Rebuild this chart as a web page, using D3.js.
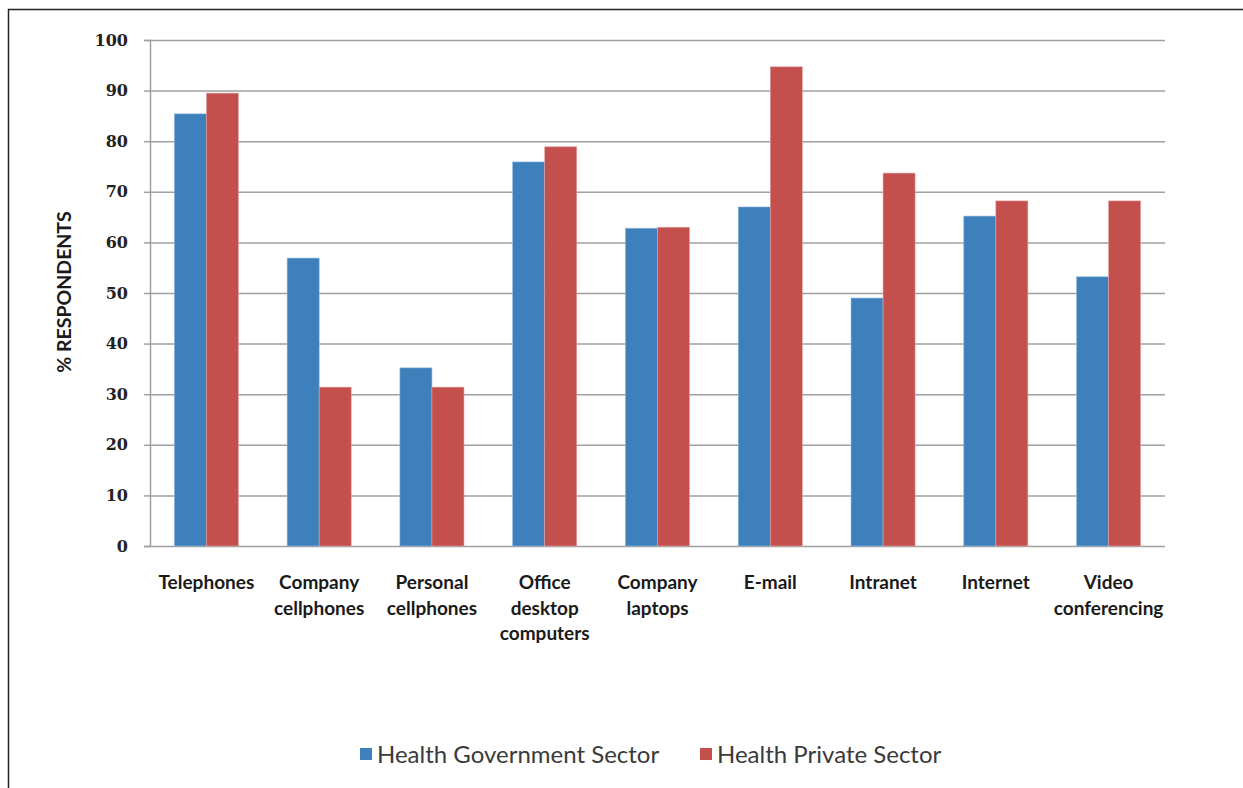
<!DOCTYPE html>
<html>
<head>
<meta charset="utf-8">
<script src="https://cdn.jsdelivr.net/npm/d3@7"></script>
<style>
  body { margin: 0; background: #fff; }
</style>
</head>
<body>
<script>
const width = 1243;
const height = 788;
const margins = { top: 40, left: 150, bottom: 242, right: 78 };

const categories = [
  ["Telephones"],
  ["Company", "cellphones"],
  ["Personal", "cellphones"],
  ["Office", "desktop", "computers"],
  ["Company", "laptops"],
  ["E-mail"],
  ["Intranet"],
  ["Internet"],
  ["Video", "conferencing"],
];
const seriesNames = ["Health Government Sector", "Health Private Sector"];
const govValues = [85.4, 56.9, 35.2, 75.9, 62.8, 67.0, 49.0, 65.2, 53.2];
const privValues = [89.5, 31.4, 31.4, 78.9, 63.0, 94.7, 73.7, 68.2, 68.2];
const yTicks = [0, 10, 20, 30, 40, 50, 60, 70, 80, 90, 100];
const colors = ["#3d80bc", "#c4504e"];

const draw_width = width - margins.left - margins.right;
const draw_height = height - margins.top - margins.bottom;

const svg = d3.select('body')
  .append('svg')
  .attr('width', width)
  .attr('height', height);

// outer frame
svg.append('rect')
  .attr('x', 8.5).attr('y', 9.5)
  .attr('width', width + 10).attr('height', height + 10)
  .attr('fill', 'none')
  .attr('stroke', '#222')
  .attr('stroke-width', 1.5);

const keys = categories.map((c, i) => i);
const xScale = d3.scaleBand()
  .domain(keys)
  .range([0, draw_width])
  .paddingInner(0.432)
  .paddingOuter(0.216);
const xSub = d3.scaleBand()
  .domain([0, 1])
  .range([0, xScale.bandwidth()]);
const yScale = d3.scaleLinear()
  .domain([0, 100])
  .range([draw_height, 0]);

const chart_g = svg.append('g')
  .attr('transform', 'translate(' + margins.left + ',' + margins.top + ')');

// y axis + grid lines
const yAxis = d3.axisLeft(yScale)
  .tickValues(yTicks)
  .tickSize(6)
  .tickPadding(16);
const y_g = chart_g.append('g')
  .attr('class', 'y_axis')
  .call(yAxis);
y_g.select('.domain')
  .attr('stroke', '#a0a0a4')
  .attr('stroke-width', 1.5);
y_g.selectAll('.tick line')
  .attr('stroke', '#a0a0a4')
  .attr('stroke-width', 1.5);
y_g.selectAll('.tick')
  .append('line')
  .attr('x1', 0).attr('x2', draw_width)
  .attr('y1', 0).attr('y2', 0)
  .attr('stroke', '#a0a0a4')
  .attr('stroke-width', 1.5);
y_g.selectAll('.tick text')
  .attr('fill', '#222')
  .style('font-family', '"DejaVu Serif", serif')
  .style('font-weight', 'bold')
  .style('font-size', '16px');

// bars
const seriesData = [govValues, privValues];
seriesData.forEach((vals, s) => {
  chart_g.selectAll('.bar' + s)
    .data(vals)
    .enter()
    .append('rect')
    .attr('class', 'bar' + s)
    .attr('x', (d, i) => xScale(i) + xSub(s))
    .attr('y', d => yScale(d))
    .attr('width', xSub.bandwidth())
    .attr('height', d => draw_height - yScale(d))
    .attr('fill', colors[s])
    .attr('stroke', s === 0 ? '#8fb4dc' : '#e2a3a2')
    .attr('stroke-width', 0.6);
});

// category labels
const xl = chart_g.append('g')
  .attr('transform', 'translate(0,' + draw_height + ')');
categories.forEach((lines, i) => {
  const t = xl.append('text')
    .attr('x', xScale(i) + xScale.bandwidth() / 2)
    .attr('y', 43)
    .attr('text-anchor', 'middle')
    .attr('fill', '#1a1a1a')
    .style('font-family', 'Lato, "Open Sans", sans-serif')
    .style('font-weight', 'bold')
    .style('font-size', '19px');
  lines.forEach((ln, j) => {
    t.append('tspan')
      .attr('x', xScale(i) + xScale.bandwidth() / 2)
      .attr('dy', j === 0 ? 0 : 25.5)
      .text(ln);
  });
});

// y axis title
svg.append('text')
  .attr('transform', 'translate(71,' + (margins.top + draw_height / 2 - 1) + ') rotate(-90)')
  .attr('text-anchor', 'middle')
  .attr('fill', '#1a1a1a')
  .style('font-family', 'Lato, "Open Sans", sans-serif')
  .style('font-weight', 'bold')
  .style('font-size', '19.5px')
  .text('% RESPONDENTS');

// legend
const legend = svg.append('g');
const legendX = [360, 700];
seriesNames.forEach((name, s) => {
  legend.append('rect')
    .attr('x', legendX[s]).attr('y', 748)
    .attr('width', 12).attr('height', 12)
    .attr('fill', colors[s]);
  legend.append('text')
    .attr('x', legendX[s] + 17).attr('y', 763)
    .attr('fill', '#3a3a3a')
    .style('font-family', 'Lato, "Open Sans", sans-serif')
    .style('font-size', '24px')
    .text(name);
});
</script>
</body>
</html>
